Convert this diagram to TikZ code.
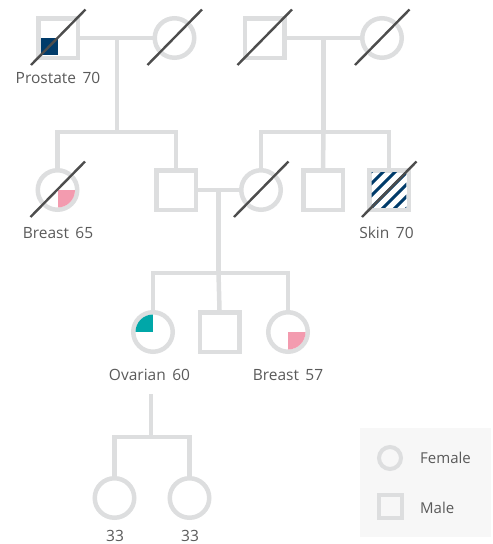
\documentclass[tikz,border=0pt]{standalone}
\usepackage{fontspec}
\setmainfont{Open Sans}
\definecolor{lg}{HTML}{DDDEDF}
\definecolor{sl}{HTML}{4D4D4D}
\definecolor{db}{HTML}{003B6A}
\definecolor{pk}{HTML}{F39BAF}
\definecolor{tl}{HTML}{00A7A8}
\definecolor{tx}{HTML}{5A5A5A}
\definecolor{bg}{HTML}{F7F7F7}
\begin{document}
\begin{tikzpicture}[x=1pt,y=-1pt,
  fem/.style={circle,draw=lg,line width=4.5pt,minimum size=39.5pt,inner sep=0pt},
  mal/.style={rectangle,draw=lg,line width=4.5pt,minimum size=39.5pt,inner sep=0pt},
  gl/.style={draw=lg,line width=4.5pt},
  slash/.style={draw=sl,line width=2.4pt},
  lab/.style={text=tx,font=\fontsize{15.5}{18}\selectfont,anchor=base,inner sep=0pt},
  leg/.style={text=tx,font=\fontsize{15}{18}\selectfont,anchor=base west,inner sep=0pt}]
\useasboundingbox (0,0) rectangle (493,544);
% legend background
\fill[bg] (360,428) rectangle (491,537);
% generation 1
\node[mal] (g1a) at (58,38) {};
\node[fem] (g1b) at (174.5,38) {};
\node[mal] (g1c) at (264.5,38) {};
\node[fem] (g1d) at (382,38) {};
% generation 2
\node[fem] (g2a) at (57.5,190) {};
\node[mal] (g2b) at (176,190) {};
\node[fem] (g2c) at (261,190) {};
\node[mal] (g2d) at (323,190) {};
\node[mal] (g2e) at (389,190) {};
% generation 3
\node[fem] (g3a) at (153,332) {};
\node[mal] (g3b) at (219.5,332) {};
\node[fem] (g3c) at (288,332) {};
% generation 4
\node[fem] (g4a) at (114.5,498) {};
\node[fem] (g4b) at (189.5,498) {};
% connectors
\coordinate (m1) at (117,38);
\coordinate (s1) at (117,132);
\coordinate (m2) at (323.5,38);
\coordinate (s2) at (323.5,132);
\coordinate (m3) at (218.5,190);
\coordinate (s3) at (218.5,273);
\coordinate (m4) at (151,394);
\coordinate (s4) at (151,437);
\draw[gl] (g1a.east) -- (g1b.west);
\draw[gl] (m1) -- (s1);
\draw[gl] (g2a.north) |- (s1) -| (g2b.north);
\draw[gl] (g1c.east) -- (g1d.west);
\draw[gl] (m2) -- (s2);
\draw[gl] (g2c.north) |- (s2) -| (g2e.north);
\draw[gl] (s2) -- (g2d.north);
\draw[gl] (g2b.east) -- (g2c.west);
\draw[gl] (m3) -- (s3);
\draw[gl] (g3a.north) |- (s3) -| (g3c.north);
\draw[gl] (s3) -- (g3b.north);
\draw[gl] (m4) -- (s4);
\draw[gl] (g4a.north) |- (s4) -| (g4b.north);
% affected fills
\fill[db] (g1a.center) rectangle ++(-17.4,17.4);
\begin{scope}
  \clip (g2a.center) circle (17.5);
  \fill[pk] (g2a.center) rectangle ++(18,18);
\end{scope}
\begin{scope}
  \clip (g3a.center) circle (17.5);
  \fill[tl] (g3a.center) rectangle ++(-18,-18);
\end{scope}
\begin{scope}
  \clip (g3c.center) circle (17.5);
  \fill[pk] (g3c.center) rectangle ++(18,18);
\end{scope}
\begin{scope}
  \clip ([shift={(-17.4,-17.4)}]g2e.center) rectangle ([shift={(17.4,17.4)}]g2e.center);
  \foreach \d in {-4,...,4} {
    \draw[db,line width=3pt] ([shift={(\d*12-30,30)}]g2e.center) -- ([shift={(\d*12+30,-30)}]g2e.center);
  }
\end{scope}
% deceased slashes
\foreach \n in {g1a,g1b,g1c,g1d,g2a,g2c,g2e} {
  \draw[slash] ([shift={(-27,27)}]\n.center) -- ([shift={(27.5,-28.5)}]\n.center);
}
% labels
\node[lab] (t1) at (58,83) {Prostate\hspace{6.5pt}70};
\node[lab] (t2) at (58,238) {Breast\hspace{6.5pt}65};
\node[lab] (t3) at (386.5,238) {Skin\hspace{6.5pt}70};
\node[lab] (t4) at (149.5,380) {Ovarian\hspace{6.5pt}60};
\node[lab] (t5) at (288,380) {Breast\hspace{6.5pt}57};
\node[lab] (t6) at (115,541) {33};
\node[lab] (t7) at (190,541) {33};
% legend
\node[circle,draw=lg,line width=4pt,minimum size=22pt,inner sep=0pt] (lf) at (390,458) {};
\node[rectangle,draw=lg,line width=4pt,minimum size=23pt,inner sep=0pt] (lm) at (390.5,506) {};
\node[leg] (tf) at (420,463) {Female};
\node[leg] (tm) at (420,513) {Male};
\end{tikzpicture}
\end{document}
